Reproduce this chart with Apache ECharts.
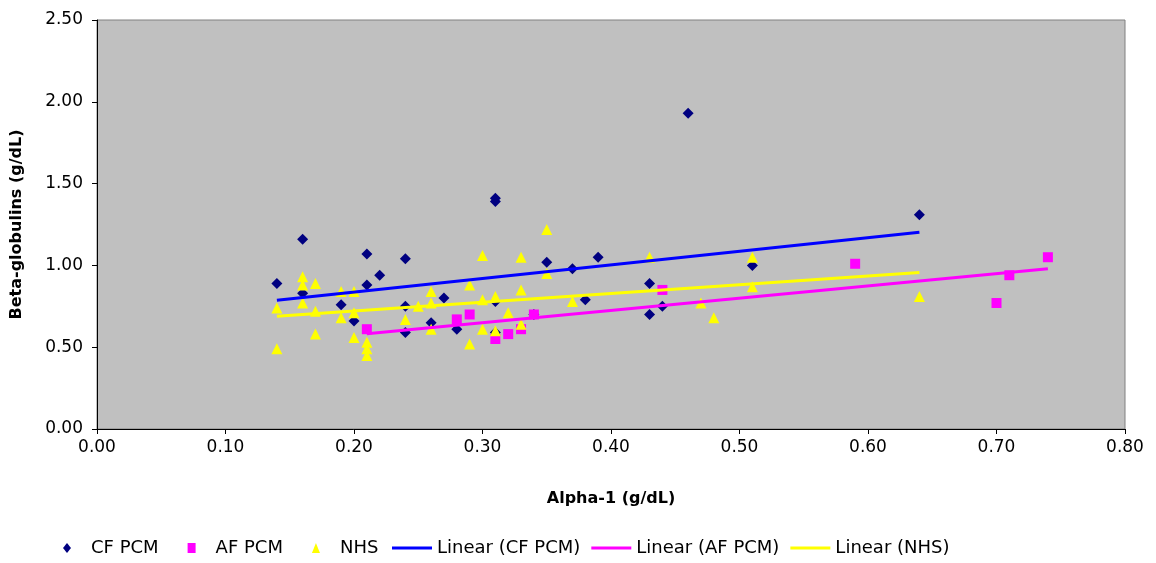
<!DOCTYPE html>
<html>
<head>
<meta charset="utf-8">
<script src="https://cdn.jsdelivr.net/npm/echarts@6/dist/echarts.min.js"></script>
<style>
html,body{margin:0;padding:0;background:#fff;}
#chart{width:1156px;height:563px;}
</style>
</head>
<body>
<div id="chart"></div>
<script>
// ---- data ----
const cfPcmX = [0.14,0.16,0.16,0.19,0.20,0.21,0.21,0.22,0.24,0.24,0.24,0.26,0.27,0.28,0.31,0.31,0.31,0.31,0.34,0.35,0.37,0.38,0.39,0.43,0.43,0.44,0.46,0.51,0.64];
const cfPcmY = [0.89,1.16,0.83,0.76,0.66,1.07,0.88,0.94,1.04,0.75,0.59,0.65,0.80,0.61,1.41,1.39,0.78,0.59,0.70,1.02,0.98,0.79,1.05,0.89,0.70,0.75,1.93,1.00,1.31];

const afPcmX = [0.21,0.28,0.29,0.31,0.32,0.33,0.34,0.44,0.59,0.70,0.71,0.74];
const afPcmY = [0.61,0.67,0.70,0.55,0.58,0.61,0.70,0.85,1.01,0.77,0.94,1.05];

const nhsX = [0.14,0.14,0.16,0.16,0.16,0.17,0.17,0.17,0.19,0.19,0.20,0.20,0.20,0.21,0.21,0.21,0.24,0.25,0.26,0.26,0.26,0.29,0.29,0.30,0.30,0.30,0.31,0.31,0.32,0.33,0.33,0.33,0.35,0.35,0.37,0.43,0.47,0.48,0.51,0.51,0.64];
const nhsY = [0.74,0.49,0.93,0.88,0.77,0.89,0.72,0.58,0.84,0.68,0.84,0.71,0.56,0.53,0.49,0.45,0.67,0.75,0.84,0.77,0.61,0.88,0.52,1.06,0.79,0.61,0.81,0.60,0.71,1.05,0.85,0.64,1.22,0.95,0.78,1.05,0.77,0.68,1.05,0.87,0.81];

const seriesNames = ['CF PCM','AF PCM','NHS'];
const trendNames = ['Linear (CF PCM)','Linear (AF PCM)','Linear (NHS)'];
const xAxisTitle = 'Alpha-1 (g/dL)';
const yAxisTitle = 'Beta-globulins (g/dL)';

// ---- helpers ----
function pairs(xs, ys){ return xs.map((x,i)=>[x, ys[i]]); }
function linearFit(xs, ys){
  const n = xs.length;
  const mx = xs.reduce((a,b)=>a+b,0)/n;
  const my = ys.reduce((a,b)=>a+b,0)/n;
  let sxy=0, sxx=0;
  for(let i=0;i<n;i++){ sxy += (xs[i]-mx)*(ys[i]-my); sxx += (xs[i]-mx)*(xs[i]-mx); }
  const b = sxy/sxx, a = my - b*mx;
  const x0 = Math.min(...xs), x1 = Math.max(...xs);
  return [[x0, a+b*x0],[x1, a+b*x1]];
}

const FONT = 'DejaVu Sans';
const chart = echarts.init(document.getElementById('chart'), null, {renderer:'canvas'});
chart.setOption({
  animation:false,
  backgroundColor:'#ffffff',
  textStyle:{fontFamily:FONT, color:'#000'},
  grid:{left:97, right:31, top:20, bottom:134, show:true, backgroundColor:'#c0c0c0', borderColor:'#808080', borderWidth:1},
  xAxis:{
    type:'value', min:0, max:0.8, interval:0.1,
    name:xAxisTitle, nameLocation:'middle', nameGap:62,
    nameTextStyle:{fontFamily:FONT, fontSize:16, fontWeight:'bold', color:'#000'},
    axisLine:{show:true, onZero:false, lineStyle:{color:'#000', width:1}},
    axisTick:{show:true, inside:false, length:5, lineStyle:{color:'#000'}},
    axisLabel:{fontFamily:FONT, fontSize:17, color:'#000', margin:10, formatter:v=>v.toFixed(2)},
    splitLine:{show:false}
  },
  yAxis:{
    type:'value', min:0, max:2.5, interval:0.5,
    name:yAxisTitle, nameLocation:'middle', nameGap:72, nameRotate:90,
    nameTextStyle:{fontFamily:FONT, fontSize:16, fontWeight:'bold', color:'#000'},
    axisLine:{show:true, onZero:false, lineStyle:{color:'#000', width:1}},
    axisTick:{show:true, inside:false, length:5, lineStyle:{color:'#000'}},
    axisLabel:{fontFamily:FONT, fontSize:17, color:'#000', margin:14, formatter:v=>v.toFixed(2)},
    splitLine:{show:false}
  },
  legend:[
    {
      left:58, top:534, orient:'horizontal',
      itemWidth:8, itemHeight:10, itemGap:29,
      textStyle:{fontFamily:FONT, fontSize:18, color:'#000', padding:[0,0,0,15]},
      data:seriesNames.map(n=>({name:n}))
    },
    {
      left:387, top:534, orient:'horizontal',
      itemWidth:40, itemHeight:3, itemGap:11,
      textStyle:{fontFamily:FONT, fontSize:18, color:'#000'},
      data:trendNames.map(n=>({name:n, icon:'rect'}))
    }
  ],
  series:[
    {name:seriesNames[0], type:'scatter', symbol:'diamond', symbolSize:11, z:2,
     itemStyle:{color:'#000080', opacity:1}, data:pairs(cfPcmX,cfPcmY)},
    {name:seriesNames[1], type:'scatter', symbol:'rect', symbolSize:10, z:2,
     itemStyle:{color:'#ff00ff', opacity:1}, data:pairs(afPcmX,afPcmY)},
    {name:seriesNames[2], type:'scatter', symbol:'triangle', symbolSize:[11,11], z:2,
     itemStyle:{color:'#ffff00', opacity:1}, data:pairs(nhsX,nhsY)},
    {name:trendNames[0], type:'line', showSymbol:false, symbol:'none', z:3,
     lineStyle:{color:'#0000ff', width:3}, itemStyle:{color:'#0000ff'}, data:linearFit(cfPcmX,cfPcmY)},
    {name:trendNames[1], type:'line', showSymbol:false, symbol:'none', z:3,
     lineStyle:{color:'#ff00ff', width:3}, itemStyle:{color:'#ff00ff'}, data:linearFit(afPcmX,afPcmY)},
    {name:trendNames[2], type:'line', showSymbol:false, symbol:'none', z:3,
     lineStyle:{color:'#ffff00', width:3}, itemStyle:{color:'#ffff00'}, data:linearFit(nhsX,nhsY)}
  ]
});
</script>
</body>
</html>
